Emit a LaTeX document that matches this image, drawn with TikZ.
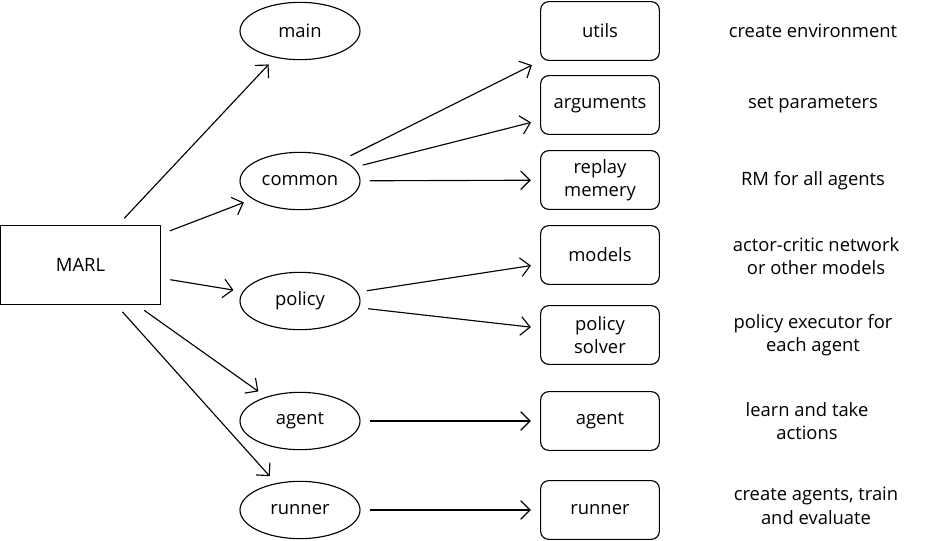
\documentclass[tikz,border=0pt]{standalone}
\usepackage{fontspec}
\setmainfont{Open Sans}
\usetikzlibrary{shapes.geometric,arrows.meta}
\begin{document}
\begin{tikzpicture}[x=0.75pt,y=-0.75pt,line width=0.85pt,
  font=\fontsize{13.8}{17.5}\selectfont,
  rootS/.style={shape=rectangle,draw=black,minimum width=120pt,minimum height=59pt},
  modS/.style={shape=ellipse,draw=black,minimum width=90pt,minimum height=43pt,inner sep=0pt},
  fileS/.style={shape=rectangle,rounded corners=6pt,draw=black,minimum width=89pt,minimum height=44pt,align=center,inner sep=1pt},
  descS/.style={align=center},
  arrC/.style={-{Straight Barb[length=7pt,width=14pt]},shorten <=7pt,shorten >=7pt}]
\useasboundingbox (0,0) rectangle (931,541);

\node[rootS] (R) at (80.5,265) {MARL};

\node[modS] (mMain) at (300,31) {main};
\node[modS] (mCommon) at (300,181) {common};
\node[modS] (mPolicy) at (300,301) {policy};
\node[modS] (mAgent) at (300,421) {agent};
\node[modS] (mRunner) at (300,510) {runner};

\node[fileS] (fUtils) at (600,31) {utils};
\node[fileS] (fArgs) at (600,105) {arguments};
\node[fileS] (fReplay) at (600,180) {replay\\memery};
\node[fileS] (fModels) at (600,255) {models};
\node[fileS] (fSolver) at (600,335) {policy\\solver};
\node[fileS] (fAgent) at (600,421) {agent};
\node[fileS] (fRunner) at (600,510) {runner};

\node[descS] (dUtils) at (813,31) {create environment};
\node[descS] (dArgs) at (813,105) {set parameters};
\node[descS] (dReplay) at (813,181) {RM for all agents};
\node[descS] (dModels) at (816,256) {actor-critic network\\or other models};
\node[descS] (dSolver) at (813,335) {policy executor for\\each agent};
\node[descS] (dAgent) at (807,421) {learn and take\\actions};
\node[descS] (dRunner) at (816,506) {create agents, train\\and evaluate};

\draw[arrC] (R) -- (mMain);
\draw[arrC] (R) -- (mCommon);
\draw[arrC] (R) -- (mPolicy);
\draw[arrC] (R) -- (mAgent);
\draw[arrC] (R) -- (mRunner);

\draw[arrC] (mCommon) -- (fUtils);
\draw[arrC] (mCommon) -- (fArgs);
\draw[arrC] (mCommon) -- (fReplay);
\draw[arrC] (mPolicy) -- (fModels);
\draw[arrC] (mPolicy) -- (fSolver);
\draw[arrC] (mAgent) -- (fAgent);
\draw[arrC] (mRunner) -- (fRunner);
\end{tikzpicture}
\end{document}
